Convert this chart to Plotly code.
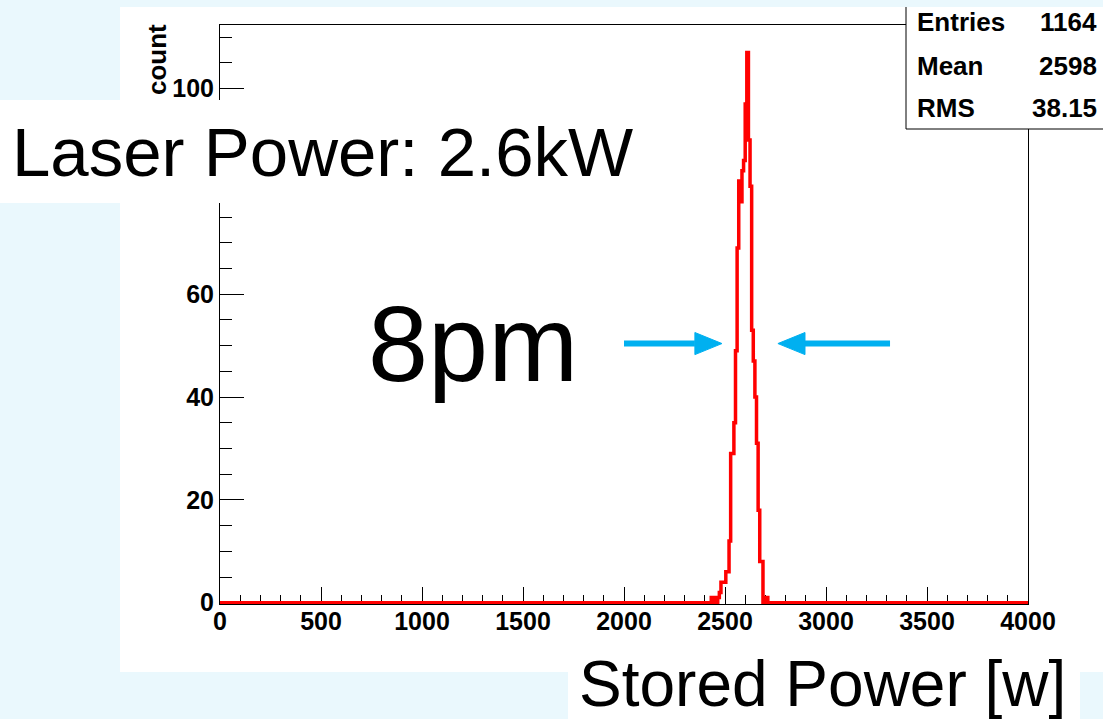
import numpy as np
import plotly.graph_objects as go

# ---------------- data ----------------
x_min, x_max, n_bins = 0, 4000, 500          # histogram binning (8 W per bin)
first_bin_lo = 2432                          # lower edge of first listed bin
counts_nonzero = [1, 1, 0, 0, 1, 2, 4, 4, 4, 6, 6, 12, 29, 29, 35, 49, 69, 82, 78,
                  84, 86, 97, 107, 90, 81, 53, 47, 40, 31, 18, 8, 8, 0, 1, 1]
stat_names = ["Entries", "Mean", "RMS"]
stat_values = ["1164", "2598", "38.15"]
x_tick_vals = [0, 500, 1000, 1500, 2000, 2500, 3000, 3500, 4000]
y_tick_vals = [0, 20, 40, 60, 80, 100]
y_tick_text = ["0", "20", "40", "60", "", "100"]   # "80" is hidden behind the label box
y_max = 112.35
fwhm_y = 50.4
left_arrow = [2000, 2351, 2485]     # tail, head base, tip (x in W)
right_arrow = [3317, 2896, 2762]

# ---------------- build histogram ----------------
bin_w = (x_max - x_min) / n_bins
edges = np.linspace(x_min, x_max, n_bins + 1)
counts = np.zeros(n_bins)
i0 = int(round((first_bin_lo - x_min) / bin_w))
counts[i0:i0 + len(counts_nonzero)] = counts_nonzero
xs = list(edges)
ys = list(counts) + [counts[-1]]

LIGHT = "#eaf8fd"
BLUE = "#00b0f0"
FONT = "Liberation Sans"

L, R, T, B = 220, 1028, 25, 604
W, H = 1103, 719


def px(x):
    return (x - L) / (R - L)


def py(y):
    return (B - y) / (B - T)


fig = go.Figure()
fig.add_trace(go.Scatter(x=xs, y=ys, mode="lines",
                         line=dict(color="#ff0000", width=3.5, shape="hv"),
                         hoverinfo="skip"))

shapes = []
# picture area (white)
shapes.append(dict(type="rect", xref="paper", yref="paper", layer="below",
                   x0=px(120), x1=px(1110), y0=py(672), y1=py(7),
                   fillcolor="white", line=dict(width=0)))
# stats box
shapes.append(dict(type="rect", xref="paper", yref="paper", layer="above",
                   x0=px(906), x1=px(1110), y0=py(129), y1=py(7),
                   fillcolor="white", line=dict(width=0)))
shapes.append(dict(type="line", xref="paper", yref="paper", layer="above",
                   x0=px(906), x1=px(906), y0=py(129), y1=py(7),
                   line=dict(color="black", width=1)))
shapes.append(dict(type="line", xref="paper", yref="paper", layer="above",
                   x0=px(906), x1=px(1110), y0=py(129), y1=py(129),
                   line=dict(color="black", width=1)))
# label boxes
shapes.append(dict(type="rect", xref="paper", yref="paper", layer="above",
                   x0=px(-5), x1=px(640), y0=py(203), y1=py(100),
                   fillcolor="white", line=dict(width=0)))
shapes.append(dict(type="rect", xref="paper", yref="paper", layer="above",
                   x0=px(568), x1=px(1080), y0=py(725), y1=py(645),
                   fillcolor="white", line=dict(width=0)))
# arrows
hh = 2.15
for tail, base, tip in (left_arrow, right_arrow):
    shapes.append(dict(type="line", xref="x", yref="y", layer="above",
                       x0=tail, x1=base, y0=fwhm_y, y1=fwhm_y,
                       line=dict(color=BLUE, width=6)))
    shapes.append(dict(type="path", xref="x", yref="y", layer="above",
                       path=f"M {base},{fwhm_y + hh} L {tip},{fwhm_y} L {base},{fwhm_y - hh} Z",
                       fillcolor=BLUE, line=dict(color=BLUE, width=1)))

ann = []
bold = dict(family=FONT, size=26, color="black", weight="bold")
rows_y = [22, 66, 108]
for name, val, yy in zip(stat_names, stat_values, rows_y):
    ann.append(dict(xref="paper", yref="paper", x=px(915), y=py(yy), text=name,
                    showarrow=False, xanchor="left", yanchor="middle", font=bold))
    ann.append(dict(xref="paper", yref="paper", x=px(1099), y=py(yy), text=val,
                    showarrow=False, xanchor="right", yanchor="middle", font=bold))
ann.append(dict(xref="paper", yref="paper", x=px(157), y=py(60), text="count",
                textangle=-90, showarrow=False, xanchor="center", yanchor="middle",
                font=bold))
ann.append(dict(xref="paper", yref="paper", x=px(10), y=py(152),
                text="Laser Power: 2.6kW", showarrow=False, xanchor="left",
                yanchor="middle", font=dict(family=FONT, size=69, color="black")))
ann.append(dict(xref="paper", yref="paper", x=px(366), y=py(343),
                text="8pm", showarrow=False, xanchor="left",
                yanchor="middle", font=dict(family=FONT, size=108, color="black")))
ann.append(dict(xref="paper", yref="paper", x=px(577), y=py(684),
                text="Stored Power [w]", showarrow=False, xanchor="left",
                yanchor="middle", font=dict(family=FONT, size=64, color="black")))

tickfont = dict(family=FONT, size=25, color="black", weight="bold")
fig.update_layout(
    width=W, height=H,
    margin=dict(l=L, r=W - R, t=T, b=H - B, pad=0),
    paper_bgcolor=LIGHT, plot_bgcolor="white",
    showlegend=False, shapes=shapes, annotations=ann,
    xaxis=dict(range=[x_min, x_max], tickvals=x_tick_vals, ticks="inside",
               ticklen=17, tickwidth=1, tickcolor="black", showline=True,
               linecolor="black", linewidth=1, mirror=True, showgrid=False,
               zeroline=False, tickfont=tickfont, layer="below traces",
               ticklabelstandoff=-5,
               minor=dict(dtick=100, tick0=0, ticks="inside", ticklen=9,
                          tickcolor="black", showgrid=False)),
    yaxis=dict(range=[-0.25, y_max], tickvals=y_tick_vals, ticktext=y_tick_text,
               ticks="inside",
               ticklen=24, tickwidth=1, tickcolor="black", showline=True,
               linecolor="black", linewidth=1, mirror=True, showgrid=False,
               zeroline=False, tickfont=tickfont, layer="below traces",
               minor=dict(dtick=5, tick0=0, ticks="inside", ticklen=12,
                          tickcolor="black", showgrid=False)),
)

fig.write_html("out.html", config={"displayModeBar": False},
               post_script="document.body.style.margin='0';document.body.style.padding='0';")
